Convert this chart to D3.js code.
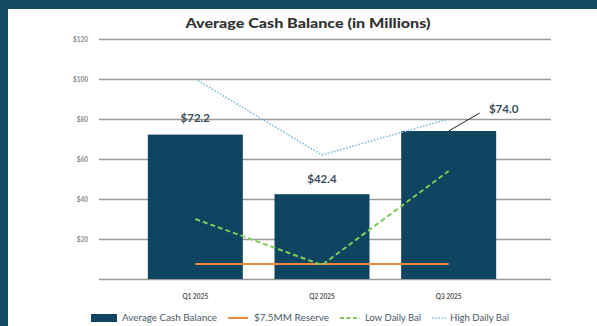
<!DOCTYPE html>
<html>
<head>
<meta charset="utf-8">
<script src="https://cdn.jsdelivr.net/npm/d3@7"></script>
<style>
  html, body { margin: 0; padding: 0; background: #154a63; }
  svg { display: block; }
</style>
</head>
<body>
<svg id="chart" width="597" height="326"></svg>
<script>
// Quarterly cash figures, in millions of dollars
const quarters = ["Q1 2025", "Q2 2025", "Q3 2025"];
const avgBalance = [72.2, 42.4, 74.0];
const reserve = [7.5, 7.5, 7.5];
const lowDaily = [30, 7, 54];
const highDaily = [100, 62, 80];
const yTicks = [20, 40, 60, 80, 100, 120];
const valueLabels = ["$72.2", "$42.4", "$74.0"];
const legendItems = ["Average Cash Balance", "$7.5MM Reserve", "Low Daily Bal", "High Daily Bal"];

const svg = d3.select("#chart");
const font = "Lato, 'Open Sans', sans-serif";

// page backdrop and white card
svg.append("rect").attr("width", 597).attr("height", 326).attr("fill", "#154a63");
svg.append("rect").attr("x", 8).attr("y", 9).attr("width", 589).attr("height", 317).attr("fill", "#ffffff");

const y = d3.scaleLinear().domain([0, 120]).range([279, 39]);
const x = d3.scaleBand().domain(quarters).range([132, 512]).paddingInner(0.25).paddingOuter(0.125);
const cx = q => x(q) + x.bandwidth() / 2;

// title
svg.append("text")
  .attr("x", 308).attr("y", 28)
  .attr("text-anchor", "middle")
  .attr("font-family", font).attr("font-weight", 900).attr("font-size", 14)
  .attr("fill", "#333333")
  .attr("textLength", 245).attr("lengthAdjust", "spacingAndGlyphs")
  .text("Average Cash Balance (in Millions)");

// horizontal grid with $ tick labels
const yAxis = d3.axisLeft(y)
  .tickValues([0].concat(yTicks))
  .tickSize(-(551 - 99))
  .tickPadding(11)
  .tickFormat(d => d === 0 ? "" : "$" + d);
const gy = svg.append("g").attr("transform", "translate(99,0)").call(yAxis);
gy.select(".domain").remove();
gy.selectAll(".tick line").attr("stroke", "#9a9a9a").attr("stroke-width", 1.6);
gy.selectAll(".tick text")
  .attr("fill", "#8a8a8a").attr("font-family", font).attr("font-size", 6.5).attr("font-weight", 700);

// bars
svg.append("g").selectAll("rect")
  .data(quarters)
  .join("rect")
  .attr("x", q => x(q))
  .attr("width", x.bandwidth())
  .attr("y", (q, i) => y(avgBalance[i]))
  .attr("height", (q, i) => y(0) - y(avgBalance[i]))
  .attr("fill", "#0f4560");

// category labels
const xAxis = d3.axisBottom(x).tickSize(0).tickPadding(0);
const gx = svg.append("g").attr("transform", "translate(0,294)").call(xAxis);
gx.select(".domain").remove();
gx.selectAll(".tick text")
  .attr("fill", "#555555").attr("font-family", font).attr("font-size", 6.5).attr("font-weight", 700);

// series lines
const line = arr => d3.line()
  .x((d, i) => cx(quarters[i]))
  .y(d => y(d))(arr);

svg.append("path").attr("d", line(reserve))
  .attr("fill", "none").attr("stroke", "#ec8a3e").attr("stroke-width", 2);
svg.append("path").attr("d", line(lowDaily))
  .attr("fill", "none").attr("stroke", "#7fcb5c").attr("stroke-width", 2)
  .attr("stroke-dasharray", "5,3");
svg.append("path").attr("d", line(highDaily))
  .attr("fill", "none").attr("stroke", "#86bdd6").attr("stroke-width", 1.6)
  .attr("stroke-dasharray", "1.6,1.6");

// value labels
const labelStyle = sel => sel
  .attr("font-family", font).attr("font-weight", 700).attr("font-size", 11.5)
  .attr("fill", "#3b4d5e").attr("text-anchor", "middle");

svg.append("text").call(labelStyle)
  .attr("x", cx(quarters[0])).attr("y", y(avgBalance[0]) - 13).text(valueLabels[0]);
svg.append("text").call(labelStyle)
  .attr("x", cx(quarters[1])).attr("y", y(avgBalance[1]) - 11).text(valueLabels[1]);

// Q3 label sits off to the right with a leader line
const q3top = y(avgBalance[2]);
svg.append("line")
  .attr("x1", cx(quarters[2])).attr("y1", q3top)
  .attr("x2", cx(quarters[2]) + 31).attr("y2", q3top - 18)
  .attr("stroke", "#222").attr("stroke-width", 1);
svg.append("text").call(labelStyle)
  .attr("x", cx(quarters[2]) + 55).attr("y", q3top - 18).text(valueLabels[2]);

// legend
const lg = svg.append("g").attr("font-family", font).attr("font-size", 9).attr("fill", "#4a5a68");
const ly = 318;
const legendText = (xPos, w, label) => lg.append("text")
  .attr("x", xPos).attr("y", ly + 3)
  .attr("textLength", w).attr("lengthAdjust", "spacingAndGlyphs")
  .text(label);
lg.append("rect").attr("x", 91).attr("y", ly - 4).attr("width", 26).attr("height", 8).attr("fill", "#0f4560");
legendText(122, 95, legendItems[0]);
lg.append("line").attr("x1", 228).attr("x2", 248).attr("y1", ly).attr("y2", ly)
  .attr("stroke", "#ec8a3e").attr("stroke-width", 2);
legendText(254, 75, legendItems[1]);
lg.append("line").attr("x1", 340).attr("x2", 360).attr("y1", ly).attr("y2", ly)
  .attr("stroke", "#7fcb5c").attr("stroke-width", 2).attr("stroke-dasharray", "4,2.5");
legendText(365, 56, legendItems[2]);
lg.append("line").attr("x1", 432).attr("x2", 446).attr("y1", ly).attr("y2", ly)
  .attr("stroke", "#86bdd6").attr("stroke-width", 1.6).attr("stroke-dasharray", "1.6,1.6");
legendText(450, 59, legendItems[3]);
</script>
</body>
</html>
